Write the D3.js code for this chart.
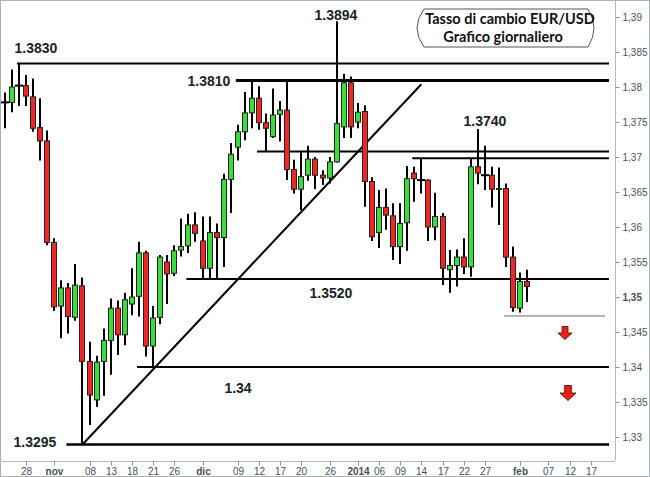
<!DOCTYPE html>
<html><head><meta charset="utf-8">
<script src="https://cdn.jsdelivr.net/npm/d3@7"></script>
<style>html,body{margin:0;padding:0;background:#fff;} svg{display:block;}</style>
</head><body><svg id="c" width="650" height="477"></svg>
<script>
// ---------------- DATA ----------------
const dates = ["2013-10-23","2013-10-24","2013-10-25","2013-10-28","2013-10-29","2013-10-30","2013-10-31","2013-11-01",
"2013-11-04","2013-11-05","2013-11-06","2013-11-07","2013-11-08","2013-11-11","2013-11-12","2013-11-13","2013-11-14","2013-11-15",
"2013-11-18","2013-11-19","2013-11-20","2013-11-21","2013-11-22","2013-11-25","2013-11-26","2013-11-27","2013-11-28","2013-11-29",
"2013-12-02","2013-12-03","2013-12-04","2013-12-05","2013-12-06","2013-12-09","2013-12-10","2013-12-11","2013-12-12","2013-12-13",
"2013-12-16","2013-12-17","2013-12-18","2013-12-19","2013-12-20","2013-12-23","2013-12-24","2013-12-25","2013-12-26","2013-12-27",
"2013-12-30","2013-12-31","2014-01-01","2014-01-02","2014-01-03","2014-01-06","2014-01-07","2014-01-08","2014-01-09","2014-01-10",
"2014-01-13","2014-01-14","2014-01-15","2014-01-16","2014-01-17","2014-01-20","2014-01-21","2014-01-22","2014-01-23","2014-01-24",
"2014-01-27","2014-01-28","2014-01-29","2014-01-30","2014-01-31","2014-02-03","2014-02-04"];
const opens  = [1.3778,1.3778,1.3802,1.3802,1.3786,1.3742,1.3723,1.3578,
1.3487,1.3513,1.3471,1.3516,1.3408,1.3353,1.3408,1.3438,1.3484,1.3446,
1.3490,1.3501,1.3563,1.3430,1.3471,1.3550,1.3534,1.3567,1.3573,1.3603,
1.3580,1.3541,1.3592,1.3585,1.3668,1.3714,1.3736,1.3763,1.3784,1.3749,
1.3729,1.3761,1.3767,1.3682,1.3654,1.3674,1.3697,1.3674,1.3670,1.3693,
1.3743,1.3806,1.3750,1.3765,1.3665,1.3592,1.3628,1.3616,1.3572,1.3606,
1.3677,1.3667,1.3667,1.3600,1.3615,1.3539,1.3545,1.3557,1.3543,1.3686,
1.3674,1.3674,1.3654,1.3655,1.3557,1.3484,1.3522];
const highs  = [1.3792,1.3825,1.3834,1.3817,1.3812,1.3784,1.3738,1.3584,
1.3524,1.3520,1.3547,1.3528,1.3436,1.3416,1.3455,1.3498,1.3495,1.3506,
1.3541,1.3579,1.3566,1.3487,1.3560,1.3560,1.3574,1.3612,1.3619,1.3621,
1.3615,1.3615,1.3605,1.3676,1.3720,1.3746,1.3793,1.3809,1.3801,1.3762,
1.3798,1.3780,1.3809,1.3696,1.3708,1.3716,1.3700,1.3681,1.3700,1.3894,
1.3819,1.3815,1.3777,1.3774,1.3671,1.3653,1.3655,1.3634,1.3634,1.3687,
1.3686,1.3698,1.3668,1.3649,1.3620,1.3567,1.3568,1.3584,1.3697,1.3740,
1.3716,1.3686,1.3685,1.3662,1.3572,1.3535,1.3539];
const lows   = [1.3741,1.3764,1.3773,1.3773,1.3736,1.3695,1.3574,1.3480,
1.3441,1.3448,1.3466,1.3291,1.3317,1.3343,1.3359,1.3389,1.3417,1.3431,
1.3474,1.3472,1.3415,1.3400,1.3461,1.3490,1.3530,1.3558,1.3563,1.3579,
1.3527,1.3526,1.3527,1.3543,1.3620,1.3695,1.3724,1.3741,1.3739,1.3709,
1.3727,1.3722,1.3667,1.3648,1.3624,1.3666,1.3654,1.3660,1.3662,1.3692,
1.3727,1.3727,1.3741,1.3629,1.3580,1.3570,1.3596,1.3553,1.3547,1.3566,
1.3636,1.3648,1.3580,1.3581,1.3517,1.3506,1.3515,1.3533,1.3529,1.3661,
1.3653,1.3628,1.3603,1.3543,1.3479,1.3478,1.3493];
const closes = [1.3778,1.3800,1.3802,1.3787,1.3741,1.3723,1.3578,1.3486,
1.3513,1.3472,1.3517,1.3408,1.3360,1.3407,1.3438,1.3484,1.3446,1.3496,
1.3500,1.3563,1.3430,1.3470,1.3557,1.3533,1.3566,1.3572,1.3603,1.3591,
1.3541,1.3592,1.3585,1.3668,1.3704,1.3736,1.3763,1.3784,1.3749,1.3741,
1.3760,1.3767,1.3682,1.3654,1.3672,1.3697,1.3674,1.3670,1.3693,1.3748,
1.3806,1.3743,1.3764,1.3665,1.3586,1.3628,1.3617,1.3572,1.3605,1.3669,
1.3669,1.3667,1.3600,1.3615,1.3541,1.3545,1.3557,1.3543,1.3686,1.3677,
1.3674,1.3654,1.3655,1.3557,1.3485,1.3522,1.3515];

const tickDates  = ["2013-10-28","2013-11-01","2013-11-08","2013-11-13","2013-11-18","2013-11-21","2013-11-26","2013-12-02",
"2013-12-09","2013-12-12","2013-12-17","2013-12-20","2013-12-26","2014-01-01","2014-01-06","2014-01-09","2014-01-14",
"2014-01-17","2014-01-22","2014-01-27","2014-02-03","2014-02-07","2014-02-12","2014-02-17"];
const tickLabels = ["28","nov","08","13","18","21","26","dic","09","12","17","20","26","2014","06","09","14","17","22","27","feb","07","12","17"];
const boldTickLabels = ["nov","dic","2014","feb"];
const priceTicks = [1.33,1.335,1.34,1.345,1.35,1.355,1.36,1.365,1.37,1.375,1.38,1.385,1.39];

// support / resistance levels (price, first date)
const levelPrices = [1.38336,1.38093,1.37079,1.36983,1.35257,1.34,1.32893,1.34729];
const levelStarts = ["2013-10-25","2013-12-09","2013-12-12","2014-01-13","2013-11-28","2013-11-19","2013-11-05","2014-01-30"];
const trendDates  = ["2013-11-07","2014-01-14"];
const trendPrices = [1.32893,1.3804];
const noteTexts = ["1.3830","1.3810","1.3894","1.3740","1.3520","1.34","1.3295"];
const titleLines = ["Tasso di cambio EUR/USD","Grafico giornaliero"];

// ---------------- CHART ----------------
const svg = d3.select("#c");
const W = 650, H = 477;
const plotRight = 615, plotBottom = 461;

const baseDay = new Date(Date.UTC(2013,9,28));
function tdIndex(s){
  const d = new Date(s+"T00:00:00Z");
  const wk = t => { const w=t.getUTCDay(); return w!==0 && w!==6; };
  if (d >= baseDay) return d3.utcDay.range(baseDay, d).filter(wk).length;
  return -d3.utcDay.range(d, baseDay).filter(wk).length;
}

const x = d3.scaleLinear().domain([0,80]).range([26,590.8]);
const y = d3.scaleLinear().domain([1.33,1.39]).range([437,17]);

const candles = dates.map((d,i)=>({i:tdIndex(d),o:opens[i],h:highs[i],l:lows[i],c:closes[i]}));

// frame
svg.append("rect").attr("x",0.5).attr("y",0.5).attr("width",W-1).attr("height",H-1)
  .attr("fill","#fff").attr("stroke","#a9b1b9");
svg.append("line").attr("x1",0).attr("x2",plotRight).attr("y1",plotBottom+0.5).attr("y2",plotBottom+0.5).attr("stroke","#b4b9bf");
svg.append("line").attr("x1",plotRight+0.5).attr("x2",plotRight+0.5).attr("y1",0).attr("y2",plotBottom).attr("stroke","#b4b9bf");

// right axis
const yAxis = d3.axisRight(y).tickValues(priceTicks).tickSize(4).tickPadding(3)
  .tickFormat(v => d3.format(".3~f")(v).replace(".",","));
const ya = svg.append("g").attr("transform",`translate(${plotRight+0.5},0)`).call(yAxis);
ya.select(".domain").remove();
ya.selectAll(".tick line").attr("stroke","#8a9097");
ya.selectAll(".tick text").attr("fill","#4a4f55").style("font-family","Liberation Sans, Arial, sans-serif")
  .style("font-size","10px").style("font-weight", d => Math.abs(d-1.35)<1e-9 ? "bold":"normal");

// bottom axis
const xa = svg.append("g").attr("transform",`translate(0,${plotBottom+0.5})`);
tickDates.forEach((d,k)=>{
  const xx = Math.round(x(tdIndex(d)))+0.5;
  xa.append("line").attr("x1",xx).attr("x2",xx).attr("y1",0).attr("y2",4).attr("stroke","#8a9097");
  xa.append("text").attr("x",xx).attr("y",13).attr("text-anchor","middle")
    .attr("fill","#4a4f55").style("font-family","Liberation Sans, Arial, sans-serif").style("font-size","10px")
    .style("font-weight", boldTickLabels.includes(tickLabels[k]) ? "bold":"normal")
    .text(tickLabels[k]);
});

// level lines
const lineW = [2,3,2,2,2,2,2.5,1];
const lineC = ["#000","#000","#000","#000","#000","#000","#000","#666"];
levelPrices.forEach((p,k)=>{
  const yy = y(p);
  svg.append("line").attr("x1",x(tdIndex(levelStarts[k]))-2).attr("x2", k===7?605:609)
    .attr("y1",yy).attr("y2",yy).attr("stroke",lineC[k]).attr("stroke-width",lineW[k]);
});
// trend line
svg.append("line").attr("x1",x(tdIndex(trendDates[0]))).attr("y1",y(trendPrices[0]))
  .attr("x2",x(tdIndex(trendDates[1]))).attr("y2",y(trendPrices[1]))
  .attr("stroke","#000").attr("stroke-width",2);

// candles
const bw = 6;
const cg = svg.append("g");
cg.selectAll("line.w").data(candles).join("line").attr("class","w")
  .attr("x1",d=>Math.round(x(d.i))).attr("x2",d=>Math.round(x(d.i)))
  .attr("y1",d=>y(d.h)).attr("y2",d=>y(d.l)).attr("stroke","#000").attr("stroke-width",2);
cg.selectAll("rect.b").data(candles.filter(d=>Math.abs(d.o-d.c)>0.00005)).join("rect").attr("class","b")
  .attr("x",d=>Math.round(x(d.i))-bw/2+0.5).attr("width",bw-1)
  .attr("y",d=>y(Math.max(d.o,d.c))).attr("height",d=>Math.max(1,Math.abs(y(d.o)-y(d.c))))
  .attr("fill",d=>d.c>d.o?"#3ddc3d":"#f02626").attr("stroke","#222").attr("stroke-width",1);
cg.selectAll("line.dj").data(candles.filter(d=>Math.abs(d.o-d.c)<=0.00005)).join("line").attr("class","dj")
  .attr("x1",d=>Math.round(x(d.i))-4).attr("x2",d=>Math.round(x(d.i))+4)
  .attr("y1",d=>y(d.c)).attr("y2",d=>y(d.c)).attr("stroke","#000").attr("stroke-width",2);

// annotation texts
const notePos = [[36,48],[209,81],[336,15],[485,121],[331,293],[238,388],[35,442]];
noteTexts.forEach((t,k)=>{
  svg.append("text").attr("x",notePos[k][0]).attr("y",notePos[k][1]).attr("dy","0.36em")
    .attr("text-anchor","middle").attr("fill","#1b1f26")
    .style("font-family","Liberation Sans, Arial, sans-serif").style("font-weight","bold").style("font-size","14px")
    .text(t);
});

// arrows
function downArrow(cx, cy, w, h){
  const sw = w*0.42, hh = h*0.5;
  const p = [[cx-sw/2,cy-h/2],[cx+sw/2,cy-h/2],[cx+sw/2,cy-h/2+hh],[cx+w/2,cy-h/2+hh],[cx,cy+h/2],
             [cx-w/2,cy-h/2+hh],[cx-sw/2,cy-h/2+hh]];
  svg.append("path").attr("d","M"+p.map(q=>q.join(",")).join("L")+"Z")
    .attr("fill","#e8201c").attr("stroke","#7a1a14").attr("stroke-width",1);
}
downArrow(565,333,14,13);
downArrow(568,393,16,15);

// title box
svg.append("path").attr("d","M424,9 L588,9 Q600,28 588,47 L424,47 Q410,28 424,9 Z")
  .attr("fill","#fff").attr("stroke","#555").attr("stroke-width",1);
const titleX = [510,503], titleY = [19,37];
titleLines.forEach((t,k)=>{
  svg.append("text").attr("x",titleX[k]).attr("y",titleY[k]).attr("dy","0.36em").attr("text-anchor","middle")
    .attr("fill","#111").style("font-family","Lato, 'Open Sans', sans-serif").style("font-weight","bold")
    .style("font-size","14.5px").text(t);
});
</script></body></html>
